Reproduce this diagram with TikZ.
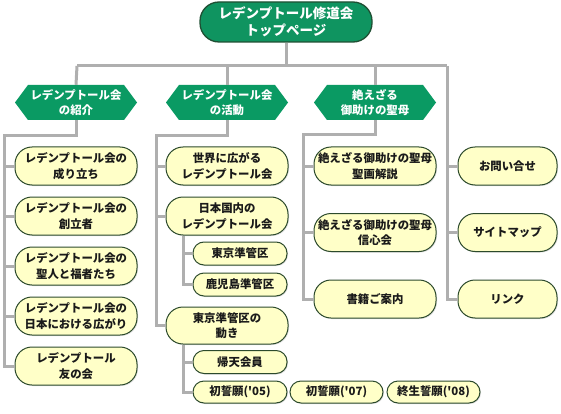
\documentclass[tikz,border=0pt]{standalone}
\usepackage{fontspec}
\setmainfont{Noto Sans CJK JP}
\usetikzlibrary{shapes.symbols,shadows}
\definecolor{hexgreen}{HTML}{0A9A63}
\definecolor{topgreen}{HTML}{0F9460}
\definecolor{topborder}{HTML}{1F4F33}
\definecolor{leaffill}{HTML}{FFFFC8}
\definecolor{leafborder}{HTML}{2C4A2C}
\definecolor{linegray}{HTML}{AFAFAF}
\definecolor{textdark}{HTML}{1A1A1A}
\newcommand{\apos}{\textquotesingle}
\begin{document}
\begin{tikzpicture}[x=1pt,y=-1pt,
  topbox/.style={draw=topborder,line width=1.3pt,fill=topgreen,rounded corners=19pt,
    minimum width=172pt,minimum height=40pt,inner sep=0pt,text=white,
    font=\fontsize{13.5}{17}\selectfont\bfseries,align=center},
  hexbox/.style={signal,signal to=west and east,signal pointer angle=107,fill=hexgreen,
    minimum width=122pt,minimum height=35pt,inner sep=0pt,text=white,
    font=\fontsize{11.4}{15.5}\selectfont\bfseries,align=center},
  leaf/.style={draw=leafborder,line width=1pt,fill=leaffill,rounded corners=17pt,
    minimum width=122pt,minimum height=38pt,inner sep=0pt,text=textdark,
    font=\fontsize{11.4}{15.5}\selectfont\bfseries,align=center,
    drop shadow={shadow xshift=1pt,shadow yshift=-1pt,opacity=0.25}},
  sub/.style={leaf,rounded corners=11pt,minimum width=94pt,minimum height=23pt},
  conn/.style={draw=linegray,line width=3pt}]
\useasboundingbox (0,0) rectangle (561,414);
\coordinate (bar) at (288,66);
\coordinate (barL) at (77,66);
\coordinate (barR) at (447,66);
\coordinate (b1) at (4,136);
\coordinate (b2) at (156,136);
\coordinate (b3) at (303,135);
\coordinate (s1) at (183,0);

\node[topbox] (top) at (286,22) {レデンプトール修道会\\トップページ};

\node[hexbox] (h1) at (76,102.5) {レデンプトール会\\の紹介};
\node[hexbox] (h2) at (227,102.5) {レデンプトール会\\の活動};
\node[hexbox] (h3) at (375,102.5) {絶えざる\\御助けの聖母};

\draw[conn] (top.south) -- (top.south |- bar);
\draw[conn] (barL) -- (barR);
\draw[conn] (barL) -- (h1.north);
\draw[conn] (h2.north |- bar) -- (h2.north);
\draw[conn] (h3.north |- bar) -- (h3.north);

\node[leaf] (a1) at (76,166) {レデンプトール会の\\成り立ち};
\node[leaf] (a2) at (76,216) {レデンプトール会の\\創立者};
\node[leaf] (a3) at (76,266) {レデンプトール会の\\聖人と福者たち};
\node[leaf] (a4) at (76,316) {レデンプトール会の\\日本における広がり};
\node[leaf] (a5) at (76,366) {レデンプトール\\友の会};

\node[leaf] (c1) at (227,166) {世界に広がる\\レデンプトール会};
\node[leaf] (c2) at (227,216) {日本国内の\\レデンプトール会};
\node[sub] (c21) at (240,253.5) {東京準管区};
\node[sub] (c22) at (240,284.5) {鹿児島準管区};
\node[leaf,minimum height=37pt] (c3) at (227,325.5) {東京準管区の\\動き};
\node[sub] (c31) at (240,362) {帰天会員};
\node[sub,minimum height=22pt] (c32) at (240,392) {初誓願(\apos 05)};
\node[sub,minimum width=93pt,minimum height=22pt] (c33) at (336.5,392) {初誓願(\apos 07)};
\node[sub,minimum width=93pt,minimum height=22pt] (c34) at (433.5,392) {終生誓願(\apos 08)};

\node[leaf] (d1) at (375,166) {絶えざる御助けの聖母\\聖画解説};
\node[leaf] (d2) at (375,232.5) {絶えざる御助けの聖母\\信心会};
\node[leaf] (d3) at (375,299) {書籍ご案内};

\node[leaf,minimum width=99pt] (e1) at (507.5,166) {お問い合せ};
\node[leaf,minimum width=99pt] (e2) at (507.5,232.5) {サイトマップ};
\node[leaf,minimum width=99pt] (e3) at (507.5,299) {リンク};

\draw[conn] (h1.south) -- (h1.south |- b1) -- (b1) -- (b1 |- a5.west) -- (a5.west);
\foreach \n in {a1,a2,a3,a4} \draw[conn] (b1 |- \n.west) -- (\n.west);

\draw[conn] (h2.south) -- (h2.south |- b2) -- (b2) -- (b2 |- c3.west) -- (c3.west);
\foreach \n in {c1,c2} \draw[conn] (b2 |- \n.west) -- (\n.west);

\draw[conn] (s1 |- c2.south) -- (s1 |- c22.west) -- (c22.west);
\draw[conn] (s1 |- c21.west) -- (c21.west);
\draw[conn] (s1 |- c3.south) -- (s1 |- c32.west) -- (c32.west);
\draw[conn] (s1 |- c31.west) -- (c31.west);

\draw[conn] (h3.south) -- (h3.south |- b3) -- (b3) -- (b3 |- d3.west) -- (d3.west);
\foreach \n in {d1,d2} \draw[conn] (b3 |- \n.west) -- (\n.west);

\draw[conn] (barR) -- (barR |- e3.west) -- (e3.west);
\foreach \n in {e1,e2} \draw[conn] (barR |- \n.west) -- (\n.west);
\end{tikzpicture}
\end{document}
